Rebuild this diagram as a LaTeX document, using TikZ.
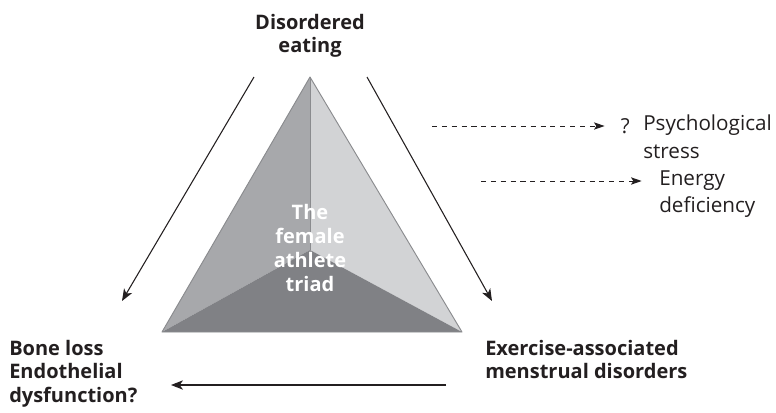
\documentclass[tikz,border=0pt]{standalone}
\usepackage{fontspec}
\setmainfont{Open Sans}
\usetikzlibrary{positioning,arrows.meta}

\definecolor{faceleft}{HTML}{A7A8AB}
\definecolor{faceright}{HTML}{D2D3D5}
\definecolor{facebottom}{HTML}{808185}
\definecolor{edgegrey}{HTML}{8A8B8E}
\definecolor{ink}{HTML}{231F20}

\begin{document}
\begin{tikzpicture}[
  x=0.75pt, y=-0.75pt,
  every node/.style={inner sep=0pt, text=ink},
  corner/.style={font=\fontsize{15}{17.6}\selectfont\bfseries, align=left},
  side/.style={font=\fontsize{15.5}{20.5}\selectfont, align=left},
  core/.style={font=\fontsize{15}{17.8}\selectfont\bfseries, align=center, text=white},
  link/.style={draw=ink, line width=0.8pt, -{Stealth[length=9pt, width=7pt, inset=2.5pt]}},
  hint/.style={draw=ink, line width=0.7pt, dash pattern=on 3.8pt off 3.6pt,
    -{Stealth[length=8pt, width=5.5pt, inset=1.8pt]}}
]
\useasboundingbox (0,0) rectangle (776,412);

% --- Triad pyramid ---
\coordinate (apex) at (310, 77);
\coordinate (bl)   at (162, 332);
\coordinate (br)   at (462, 332);
\coordinate (ctr)  at (310, 250);

\fill[faceleft]   (apex) -- (ctr) -- (bl) -- cycle;
\fill[faceright]  (apex) -- (br) -- (ctr) -- cycle;
\fill[facebottom] (bl) -- (ctr) -- (br) -- cycle;
\draw[edgegrey, line width=0.7pt, line join=round] (apex) -- (bl) -- (br) -- cycle;
\draw[edgegrey, line width=0.7pt] (apex) -- (ctr);

\node[core] (triad) at (310, 248) {The\\female\\athlete\\triad};

% --- Corners of the triad ---
\node[corner, align=center] (eat) at (310, 36) {Disordered\\eating};
\node[corner, anchor=north west] (bone)  at (9, 340)   {Bone loss\\Endothelial\\dysfunction?};
\node[corner, anchor=north west] (menst) at (485, 340) {Exercise-associated\\menstrual disorders};

% --- Causes on the right ---
\node[side, anchor=north west] (psych)  at (643, 115) {Psychological\\stress};
\node[side, anchor=east] (qmark) at (630, 126) {?};
\node[side, anchor=north west] (energy) at (659, 170) {Energy\\deficiency};

% --- Cycle arrows ---
\coordinate (eatL)   at (254, 77);
\coordinate (boneT)  at (122, 301);
\coordinate (eatR)   at (367, 77);
\coordinate (menstT) at (492, 301);
\coordinate (menstL) at (446, 385);
\coordinate (boneR)  at (171, 385);

\draw[link] (eatL) -- (boneT);
\draw[link] (eatR) -- (menstT);
\draw[link] (menstL) -- (boneR);

% --- Dashed links ---
\coordinate (psychS)  at (432, 126);
\coordinate (energyS) at (481, 181);

\draw[hint] (psychS) -- ([xshift=-12pt]qmark.west |- psychS);
\draw[hint] (energyS) -- ([xshift=-13pt]energy.west |- energyS);

\end{tikzpicture}
\end{document}
